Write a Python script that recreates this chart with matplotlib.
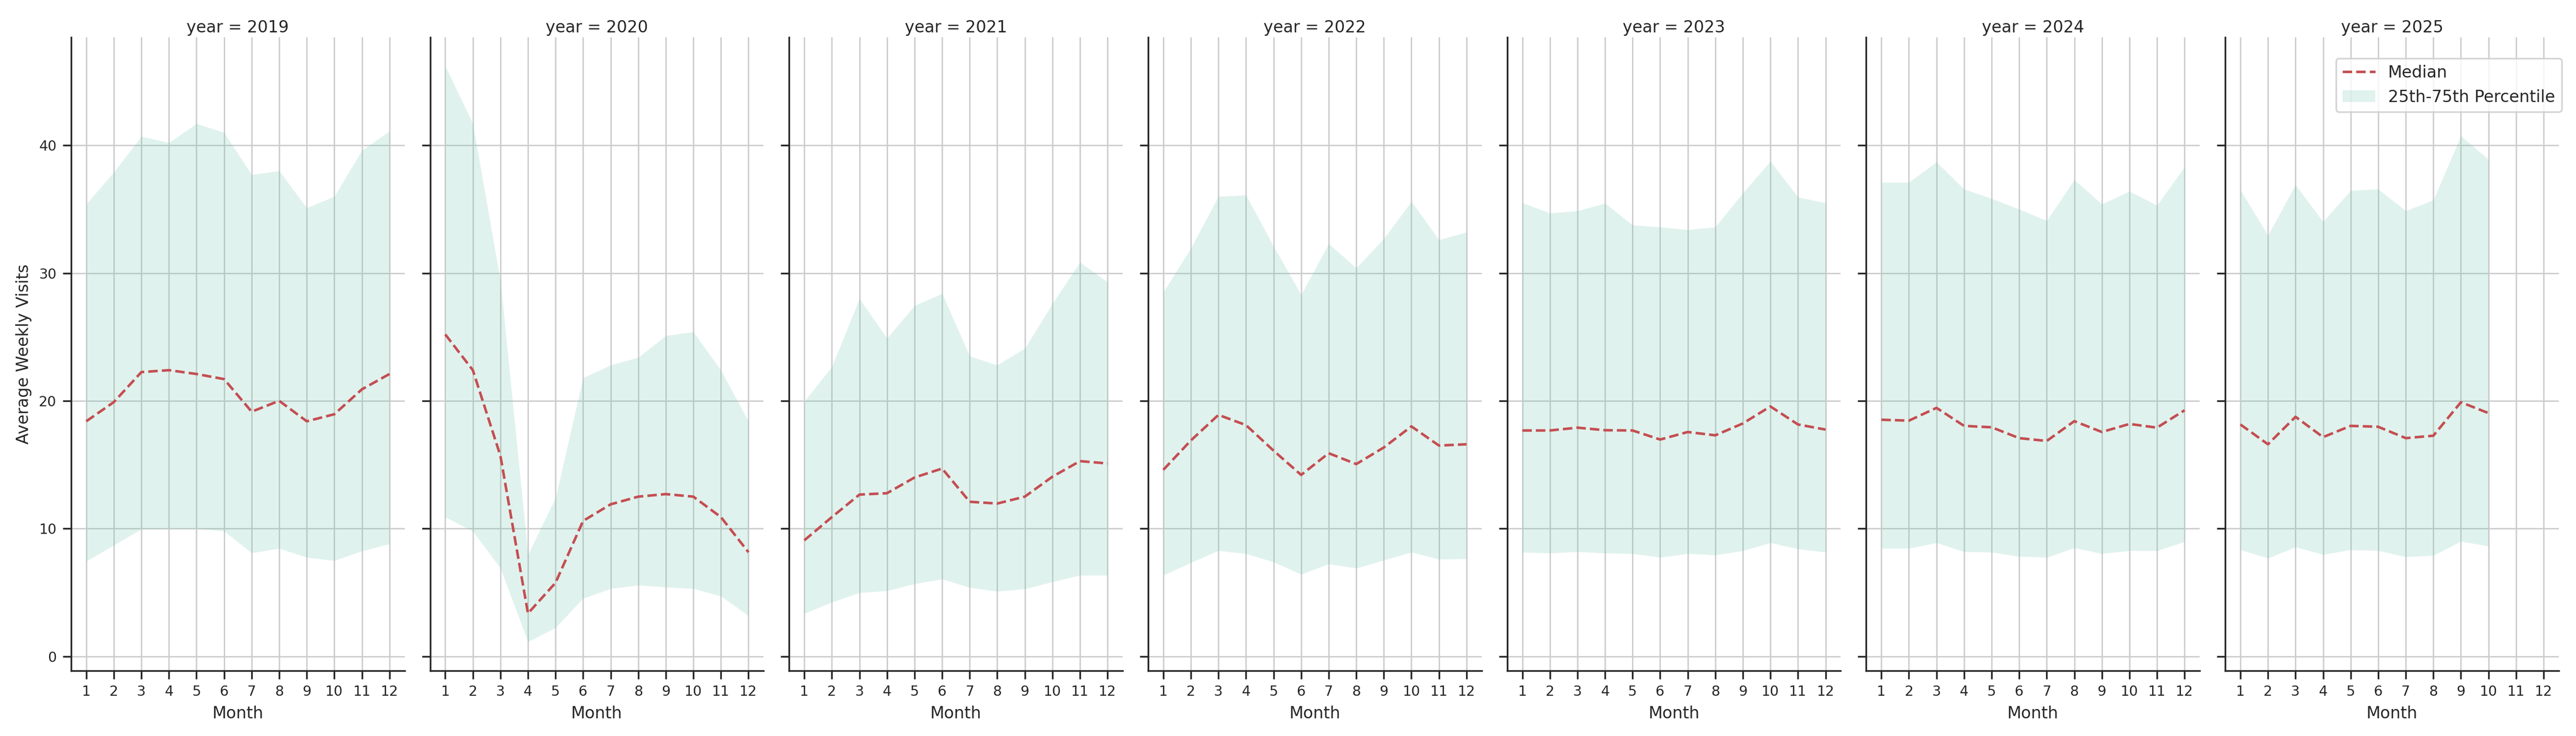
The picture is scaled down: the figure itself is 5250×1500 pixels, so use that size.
import matplotlib
matplotlib.use("Agg")
import matplotlib.pyplot as plt
import seaborn as sns

years = [2019, 2020, 2021, 2022, 2023, 2024, 2025]
months = list(range(1, 13))

# median weekly visits per month, one list per year
median_2019 = [18.4, 19.9, 22.25, 22.4, 22.1, 21.7, 19.15, 20.0, 18.4, 18.95, 20.9, 22.1]
median_2020 = [25.2, 22.4, 15.7, 3.36, 5.76, 10.6, 11.9, 12.5, 12.7, 12.5, 10.9, 8.15]
median_2021 = [9.08, 10.9, 12.66, 12.77, 14.0, 14.7, 12.1, 11.96, 12.5, 14.06, 15.28, 15.1]
median_2022 = [14.6, 16.9, 18.9, 18.1, 16.1, 14.2, 15.9, 15.05, 16.35, 18.0, 16.5, 16.6]
median_2023 = [17.68, 17.68, 17.9, 17.7, 17.68, 16.97, 17.56, 17.3, 18.23, 19.56, 18.15, 17.75]
median_2024 = [18.52, 18.45, 19.45, 18.04, 17.93, 17.08, 16.86, 18.41, 17.56, 18.19, 17.9, 19.26]
median_2025 = [18.15, 16.6, 18.75, 17.16, 18.04, 17.97, 17.08, 17.27, 19.89, 19.04]

# 75th percentile
p75_2019 = [35.4, 37.9, 40.7, 40.2, 41.7, 41.0, 37.7, 38.0, 35.1, 36.0, 39.6, 41.1]
p75_2020 = [46.2, 41.7, 29.4, 7.97, 12.4, 21.8, 22.8, 23.4, 25.1, 25.4, 22.4, 18.4]
p75_2021 = [19.96, 22.66, 28.0, 24.9, 27.45, 28.4, 23.5, 22.8, 24.1, 27.6, 30.85, 29.3]
p75_2022 = [28.5, 31.96, 36.0, 36.1, 32.1, 28.3, 32.3, 30.4, 32.7, 35.6, 32.6, 33.2]
p75_2023 = [35.5, 34.7, 34.87, 35.46, 33.76, 33.6, 33.4, 33.6, 36.27, 38.75, 35.94, 35.5]
p75_2024 = [37.1, 37.1, 38.7, 36.57, 35.83, 35.0, 34.1, 37.3, 35.4, 36.4, 35.3, 38.3]
p75_2025 = [36.5, 32.96, 36.9, 34.02, 36.46, 36.57, 34.87, 35.72, 40.74, 38.9]

# 25th percentile
p25_2019 = [7.45, 8.7, 9.96, 10.0, 10.0, 9.8, 8.1, 8.45, 7.75, 7.5, 8.25, 8.8]
p25_2020 = [10.9, 9.8, 6.9, 1.14, 2.25, 4.54, 5.3, 5.57, 5.42, 5.3, 4.72, 3.17]
p25_2021 = [3.36, 4.24, 4.98, 5.13, 5.68, 6.05, 5.39, 5.09, 5.28, 5.83, 6.35, 6.35]
p25_2022 = [6.35, 7.34, 8.27, 8.04, 7.38, 6.42, 7.23, 6.9, 7.53, 8.15, 7.6, 7.64]
p25_2023 = [8.15, 8.08, 8.19, 8.08, 8.04, 7.75, 8.04, 7.93, 8.27, 8.89, 8.41, 8.15]
p25_2024 = [8.45, 8.45, 8.89, 8.19, 8.15, 7.82, 7.75, 8.49, 8.04, 8.27, 8.27, 8.97]
p25_2025 = [8.34, 7.68, 8.56, 7.97, 8.34, 8.27, 7.79, 7.9, 9.0, 8.63]

medians = [median_2019, median_2020, median_2021, median_2022, median_2023, median_2024, median_2025]
uppers = [p75_2019, p75_2020, p75_2021, p75_2022, p75_2023, p75_2024, p75_2025]
lowers = [p25_2019, p25_2020, p25_2021, p25_2022, p25_2023, p25_2024, p25_2025]


def main():
    sns.set_style("ticks", {"axes.grid": True})
    plt.rcParams.update({
        "axes.linewidth": 1.0,
        "grid.linewidth": 0.8,
        "xtick.major.size": 5,
        "ytick.major.size": 5,
        "xtick.major.width": 1.0,
        "ytick.major.width": 1.0,
        "xtick.labelsize": 8.2,
        "ytick.labelsize": 8.2,
        "axes.labelsize": 9.6,
        "axes.titlesize": 9.6,
        "legend.fontsize": 9.6,
    })

    fig, axes = plt.subplots(1, len(years), figsize=(21, 6), dpi=250,
                             sharex=True, sharey=True)
    fig.subplots_adjust(left=0.0276, right=0.9933, bottom=0.0889, top=0.9493,
                        wspace=0.0765)

    fill_color = sns.color_palette("Set2")[0]
    line_color = sns.color_palette("deep")[3]

    for ax, year, med, lo, hi in zip(axes, years, medians, lowers, uppers):
        x = months[:len(med)]
        ax.fill_between(x, lo, hi, color=fill_color, alpha=0.2, linewidth=0,
                        label="25th-75th Percentile")
        ax.plot(x, med, "--", color=line_color, linewidth=1.5, label="Median")
        ax.set_title(f"year = {year}", pad=3)
        ax.set_xlabel("Month")
        ax.set_xticks(months)
        sns.despine(ax=ax)

    axes[0].set_ylabel("Average Weekly Visits")
    axes[0].set_yticks([0, 10, 20, 30, 40])

    handles, labels = axes[-1].get_legend_handles_labels()
    axes[-1].legend(handles[::-1], labels[::-1], loc="upper right",
                    bbox_to_anchor=(1.009, 0.967), borderaxespad=0)

    fig.savefig("out.png", dpi=250)


if __name__ == "__main__":
    main()
